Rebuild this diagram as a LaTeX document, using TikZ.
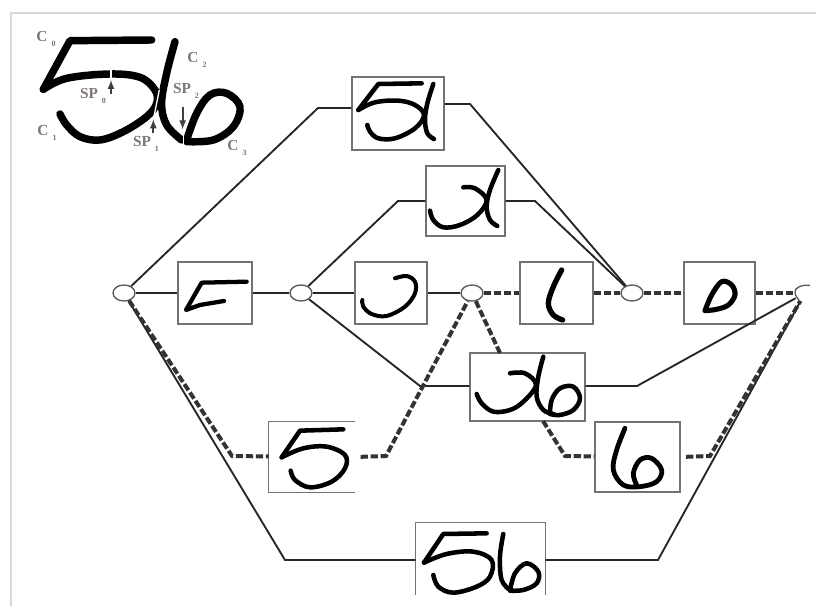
\documentclass[tikz,border=0pt]{standalone}
\usepackage{fontspec}
\setmainfont{Liberation Serif}
\usetikzlibrary{shapes.geometric}

\definecolor{labelgray}{RGB}{125,118,118}

\newcommand{\seglabel}[2]{{\fontsize{11.5}{11.5}\selectfont\bfseries #1\hspace{3pt}\raisebox{-4pt}{\fontsize{6}{6}\selectfont #2}}}

\tikzset{
	digitbox/.style 2 args={draw=black!55, line width=1pt, inner sep=0pt, minimum width=#1*.75pt, minimum height=#2*.75pt},
	openbox/.style 2 args={inner sep=0pt, minimum width=#1*.75pt, minimum height=#2*.75pt},
	boxside/.style={draw=black!55, line width=1pt},
	junction/.style={ellipse, draw=black!65, fill=white, line width=1pt, inner sep=0pt, minimum width=16.5pt, minimum height=12pt},
	solidlink/.style={black!85, line width=1.4pt},
	dashlink/.style={black!80, line width=3pt, dash pattern=on 5.5pt off 2pt},
	ink/.style={line width=#1, line cap=round, line join=round, smooth, tension=.6},
	seg/.style={labelgray, inner sep=0pt},
	cutmark/.style={black!75, line width=1.3pt, -latex}
}

\begin{document}
\begin{tikzpicture}[x=.75pt, y=-.75pt]
	\useasboundingbox (0, 0) rectangle (816, 606);
	\draw [black!15, line width=1.2pt] (11, 606) -- (11, 13) -- (816, 13);

	% junctions
	\node [junction] (j0) at (124, 293) {};
	\node [junction] (j1) at (301, 293) {};
	\node [junction] (j2) at (472, 293) {};
	\node [junction] (j3) at (632, 293) {};
	\node [junction, draw=none, fill=none] (j4) at (805, 293) {};
	\draw [black!65, line width=1pt] plot [smooth, tension=.7] coordinates {(810, 285.5) (803, 285.5) (796, 289) (795.5, 295) (799, 300)};

	% boxes
	\node [digitbox={92}{73}] (b5x) at (398, 113.5) {};
	\node [digitbox={79}{70}] (bx) at (465.5, 201) {};
	\node [digitbox={74}{62}] (bf) at (215, 293) {};
	\node [digitbox={72}{62}] (bj) at (391, 293) {};
	\node [digitbox={73}{62}] (bl) at (556.5, 293) {};
	\node [digitbox={71}{62}] (bo) at (719.5, 293) {};
	\node [digitbox={115}{68}] (bx6) at (527.5, 387) {};
	\node [digitbox={85}{70}] (b6) at (637.5, 457) {};
	\node [openbox={86}{70}] (b5) at (312, 457) {};
	\node [openbox={129}{72}] (b56) at (480.5, 559) {};
	\draw [boxside] (b5.north east) -- (b5.north west) -- (b5.south west) -- (b5.south east);
	\draw [boxside] (b56.south west) -- (b56.north west) -- (b56.north east) -- (b56.south east);

	% bends
	\coordinate (k5x) at (318, 108);
	\coordinate (m5x) at (470, 104);
	\coordinate (kx) at (398, 201);
	\coordinate (mx) at (535, 201);
	\coordinate (kx6) at (420, 386);
	\coordinate (mx6) at (637, 386);
	\coordinate (k56) at (285, 560);
	\coordinate (m56) at (658, 560);
	\coordinate (k5) at (232, 456);
	\coordinate (m5) at (386, 456);
	\coordinate (k6) at (565, 456);
	\coordinate (m6) at (710, 456);
	\coordinate (t2) at (500, 353);
	\coordinate (t6) at (543, 421);

	% solid paths
	\draw [solidlink] (j0) -- (bf);
	\draw [solidlink] (bf) -- (j1);
	\draw [solidlink] (j1) -- (bj);
	\draw [solidlink] (bj) -- (j2);
	\draw [solidlink] (j0) -- (k5x) -- (k5x -| b5x.west);
	\draw [solidlink] (m5x -| b5x.east) -- (m5x) -- (j3);
	\draw [solidlink] (j1) -- (kx) -- (kx -| bx.west);
	\draw [solidlink] (mx -| bx.east) -- (mx) -- (j3);
	\draw [solidlink] (j1) -- (kx6) -- (kx6 -| bx6.west);
	\draw [solidlink] (mx6 -| bx6.east) -- (mx6) -- (j4);
	\draw [solidlink] (j0) -- (k56) -- (k56 -| b56.west);
	\draw [solidlink] (m56 -| b56.east) -- (m56) -- (j4);

	% dashed paths
	\draw [dashlink] (j2) -- (bl);
	\draw [dashlink] (bl) -- (j3);
	\draw [dashlink] (j3) -- (bo);
	\draw [dashlink] (bo) -- (j4);
	\draw [dashlink] (j0) -- (k5) -- (b5);
	\draw [dashlink, shorten <=4pt] (b5.east) -- (m5) -- (j2);
	\draw [dashlink] (j2) -- (t2);
	\draw [dashlink] (t6) -- (k6) -- (b6);
	\draw [dashlink, shorten <=4pt] (b6.east) -- (m6) -- (j4);

	% digits in the boxes
	\begin{scope}[shift={(340, 70)}, scale=.3333]
		\draw [ink=3.4pt] (245,40) -- (115,42) -- (55,120);
		\draw [ink=3.4pt] plot coordinates {(55,120) (105,97) (175,92) (225,105) (252,135) (225,175) (165,205) (115,205) (90,185) (82,165)};
		\draw [ink=3.4pt] plot coordinates {(280,42) (262,100) (255,150) (262,190) (282,207)};
		\draw [ink=3.4pt] plot coordinates {(370,352) (405,355) (440,390) (412,435) (360,465) (310,472) (280,450) (270,422)};
		\draw [ink=3.4pt] plot coordinates {(475,300) (450,360) (440,410) (450,450) (472,468)};
	\end{scope}
	\begin{scope}[shift={(100, 240)}, scale=.3333]
		\draw [ink=3.2pt] (440,125) -- (305,128) -- (258,210) -- (300,195) -- (372,183);
		\draw [ink=3pt] plot coordinates {(885,115) (920,108) (945,125) (945,160) (915,200) (860,228) (815,222) (790,200) (787,180)};
	\end{scope}
	\begin{scope}[shift={(460, 240)}, scale=.3333]
		\draw [ink=4pt] plot coordinates {(305,90) (280,140) (265,190) (280,225) (308,240)};
		\draw [ink=3.8pt] plot coordinates {(735,212) (755,165) (785,125) (815,135) (825,165) (805,195) (770,208) (735,212)};
		\draw [ink=3.4pt] plot coordinates {(150,400) (195,400) (228,435) (190,485) (150,510) (100,515) (65,490) (50,462)};
		\draw [ink=3.4pt] plot coordinates {(250,350) (235,410) (230,470) (250,510) (280,522)};
		\draw [ink=3.4pt] plot coordinates {(270,522) (275,480) (300,445) (340,440) (360,475) (340,510) (300,525) (270,522)};
		\draw [ink=3.6pt] plot coordinates {(495,565) (470,630) (460,690) (490,735) (540,740) (590,725) (605,690) (575,655) (540,660) (520,700) (530,735)};
	\end{scope}
	\begin{scope}[shift={(220, 400)}, scale=.3333]
		\draw [ink=3.4pt] (370,88) -- (240,92) -- (185,172);
		\draw [ink=3.4pt] plot coordinates {(185,172) (250,145) (320,140) (375,165) (375,205) (335,245) (270,262) (225,240) (212,212)};
		\draw [ink=3.4pt] (800,400) -- (670,402) -- (612,488);
		\draw [ink=3.4pt] plot coordinates {(612,488) (680,462) (760,455) (815,480) (810,530) (770,560) (700,578) (655,560) (640,525)};
		\draw [ink=3.4pt] plot coordinates {(850,402) (840,470) (845,540) (870,570)};
		\draw [ink=3.4pt] plot coordinates {(870,572) (885,520) (920,490) (955,515) (950,550) (910,570) (870,572)};
	\end{scope}

	% segmented word
	\begin{scope}[scale=.3333]
		\draw [ink=5.6pt] (455,120) -- (210,122) -- (130,268);
		\draw [ink=5.6pt] plot coordinates {(130,268) (200,235) (330,222) (420,232) (465,270) (470,310) (440,350) (370,395) (300,420) (240,410) (200,375) (180,342)};
		\draw [ink=5.6pt] plot coordinates {(525,125) (500,220) (485,310) (500,375) (545,420)};
		\draw [ink=5.6pt] plot coordinates {(560,420) (590,340) (630,285) (680,280) (720,320) (700,380) (640,420) (560,425)};
		\draw [white, line width=1pt] (333, 205) -- (333, 240);
		\draw [white, line width=1pt] (478, 270) -- (462, 350);
		\draw [white, line width=1pt] (551, 395) -- (551, 435);
		\draw [cutmark] (333, 282) -- (333, 240);
		\draw [cutmark] (460, 400) -- (460, 358);
		\draw [cutmark] (548, 320) -- (548, 388);
	\end{scope}
	\node [seg] (c0) at (46, 39) {\seglabel{C}{0}};
	\node [seg] (c1) at (47, 133) {\seglabel{C}{1}};
	\node [seg] (c2) at (197, 60) {\seglabel{C}{2}};
	\node [seg] (c3) at (237, 148) {\seglabel{C}{3}};
	\node [seg] (sp0) at (93, 96) {\seglabel{SP}{0}};
	\node [seg] (sp1) at (146, 144) {\seglabel{SP}{1}};
	\node [seg] (sp2) at (186, 91) {\seglabel{SP}{2}};
\end{tikzpicture}
\end{document}
